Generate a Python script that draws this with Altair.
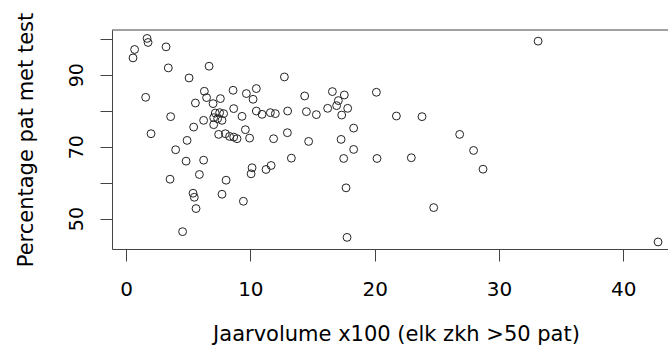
import altair as alt
import pandas as pd

# Jaarvolume x100 (x) and Percentage pat met test (y)
volume = [1.69, 1.77, 0.69, 0.56, 3.22, 3.40, 6.68, 5.07, 12.74, 1.58,
          6.30, 6.48, 7.59, 8.61, 9.68, 10.48, 10.22, 5.58, 7.00, 8.66,
          3.59, 7.18, 7.53, 7.05, 7.37, 7.85, 7.72, 9.33, 10.48, 10.94,
          11.61, 12.01, 13.00, 6.24, 5.44, 7.05, 9.60, 12.98, 2.01, 7.45,
          7.99, 8.33, 8.66, 8.93, 9.94, 11.87, 4.91, 3.99, 4.83, 6.24,
          13.30, 5.90, 3.54, 8.05, 10.14, 10.06, 11.26, 11.67, 5.39, 5.49,
          7.72, 9.44, 5.63, 4.55, 14.37, 16.60, 17.56, 17.08, 16.94, 16.22,
          17.83, 17.35, 20.14, 14.51, 15.31, 21.75, 23.81, 18.31, 14.69, 17.30,
          26.84, 18.31, 17.51, 20.19, 22.95, 27.96, 28.72, 17.70, 24.75, 17.78,
          33.15, 42.80]
percentage = [100.06, 98.94, 96.99, 94.65, 97.72, 91.87, 92.34, 89.08, 89.36, 83.70,
              85.38, 83.62, 83.34, 85.65, 84.74, 86.13, 83.15, 82.12, 81.95, 80.56,
              78.33, 79.33, 79.44, 78.05, 77.77, 79.16, 77.30, 78.41, 79.89, 78.97,
              79.44, 79.16, 79.89, 77.30, 75.43, 76.10, 74.71, 73.87, 73.59, 73.40,
              73.59, 72.84, 72.65, 72.20, 72.37, 72.20, 71.73, 69.14, 65.96, 66.24,
              66.80, 62.26, 60.95, 60.67, 64.12, 62.45, 63.65, 64.76, 57.05, 55.93,
              56.77, 54.82, 52.79, 46.38, 84.07, 85.29, 84.35, 82.79, 81.39, 80.64,
              80.64, 78.77, 85.10, 79.72, 78.89, 78.50, 78.33, 75.15, 71.45, 72.01,
              73.40, 69.22, 66.71, 66.71, 66.91, 68.94, 63.73, 58.55, 53.06, 44.79,
              99.30, 43.51]

x_ticks = [0, 10, 20, 30, 40]
y_ticks = [50, 60, 70, 80, 90, 100]
x_title = "Jaarvolume x100 (elk zkh >50 pat)"
y_title = "Percentage pat met test"

df = pd.DataFrame({"volume": volume, "pct": percentage})

W, H = 556, 219
FONT = "DejaVu Sans"
LINE = "#444444"

points = alt.Chart(df).mark_point(
    shape="circle", filled=False, size=62, color="#222222", strokeWidth=1, opacity=1
).encode(
    x=alt.X("volume:Q",
            scale=alt.Scale(domain=[-1.13, 43.6], nice=False, zero=False),
            axis=alt.Axis(values=x_ticks, title=x_title, grid=False, tickSize=12,
                          labelFontSize=20, labelBaseline="alphabetic", labelPadding=34,
                          titleFontSize=21, titleX=284, titleY=91,
                          titleBaseline="alphabetic", titleAlign="center")),
    y=alt.Y("pct:Q",
            scale=alt.Scale(domain=[41.56, 102.4], nice=False, zero=False),
            axis=alt.Axis(values=y_ticks, title=y_title, grid=False, tickSize=12,
                          labelFontSize=19,
                          labelAngle=-90, labelAlign="center", labelBaseline="alphabetic",
                          labelPadding=18,
                          labelExpr="datum.value % 20 == 10 ? datum.label : ''",
                          titleFontSize=21,
                          titleX=-80, titleY=H / 2, titleBaseline="alphabetic",
                          titleAlign="center", titleAngle=-90)),
)

top = alt.Chart(pd.DataFrame({"a": [0]})).mark_rule(color=LINE, strokeWidth=1).encode(
    x=alt.value(0), x2=alt.value(W), y=alt.value(0)
)

chart = alt.layer(points, top).properties(
    width=W, height=H,
    autosize=alt.AutoSizeParams(type="none"),
    padding={"left": 112, "top": 30, "right": 0, "bottom": 100},
).configure_view(stroke=None).configure_axis(
    labelFont=FONT, titleFont=FONT,
    titleFontWeight="normal", labelColor="black", titleColor="black",
    domainColor=LINE, tickColor=LINE, domainWidth=1, tickWidth=1,
)

chart.save("out.html", embed_options={"renderer": "svg", "actions": False})
